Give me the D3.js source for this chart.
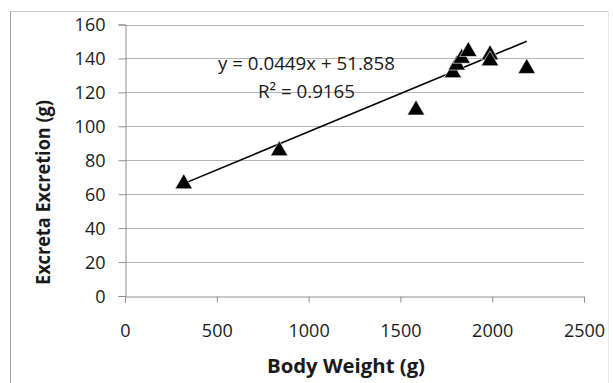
<!DOCTYPE html>
<html><head><meta charset="utf-8">
<script src="https://cdn.jsdelivr.net/npm/d3@7"></script>
<style>body{margin:0;background:#fff}svg{display:block}text{font-family:"Open Sans","Liberation Sans",sans-serif}</style>
</head><body>
<svg id="c" width="613" height="383"></svg>
<script>
const bodyWeight = [320, 840, 1585, 1786, 1807, 1834, 1870, 1988, 1988, 2188];
const excreta    = [67, 86.5, 110.5, 132.5, 137, 141, 145, 143, 139.5, 135];
const xTicks = [0, 500, 1000, 1500, 2000, 2500];
const yTicks = [0, 20, 40, 60, 80, 100, 120, 140, 160];
const slope = 0.0449, intercept = 51.858;
const eqText = "y = 0.0449x + 51.858";
const r2Text = "R² = 0.9165";
const xTitle = "Body Weight (g)";
const yTitle = "Excreta Excretion (g)";

const svg = d3.select("#c");
// outer chart border
svg.append("line").attr("x1",10.5).attr("x2",10.5).attr("y1",11).attr("y2",383).attr("stroke","#a0a0a0");
svg.append("line").attr("x1",10.5).attr("x2",608.5).attr("y1",11.5).attr("y2",11.5).attr("stroke","#c8c8c8");
svg.append("line").attr("x1",608.5).attr("x2",608.5).attr("y1",11).attr("y2",383).attr("stroke","#e4e4e4");

const x = d3.scaleLinear().domain([0,2500]).range([125,584]);
const y = d3.scaleLinear().domain([0,160]).range([296,24.5]);

// gridlines
svg.append("g").selectAll("line").data(yTicks.filter(d=>d>0)).join("line")
  .attr("x1",x(0)).attr("x2",x(2500)).attr("y1",d=>Math.round(y(d))+0.5).attr("y2",d=>Math.round(y(d))+0.5)
  .attr("stroke","#b4b4b4").attr("stroke-width",1);

// axes
const fmt = d3.format("d");
const yAxis = d3.axisLeft(y).tickValues(yTicks).tickFormat(fmt).tickSize(7).tickPadding(13);
const gy = svg.append("g").attr("transform",`translate(${x(0)+0.5},0)`).call(yAxis);
const xAxis = d3.axisBottom(x).tickValues(xTicks).tickFormat(fmt).tickSize(6);
const gx = svg.append("g").attr("transform",`translate(0,${Math.round(y(0))+0.5})`).call(xAxis);
[gx,gy].forEach(g=>{
  g.select(".domain").attr("stroke","#909090");
  g.selectAll(".tick line").attr("stroke","#909090");
  g.selectAll("text").attr("fill","#1a1a1a").style("font-size","18px").style("font-family","'Open Sans','Liberation Sans',sans-serif");
});
gy.selectAll(".tick text").attr("dy","0.35em");
gx.selectAll(".tick text").attr("y",40).attr("dy",0);

// trendline
const xmin = d3.min(bodyWeight), xmax = d3.max(bodyWeight);
svg.append("line").attr("x1",x(xmin)).attr("y1",y(slope*xmin+intercept))
  .attr("x2",x(xmax)).attr("y2",y(slope*xmax+intercept))
  .attr("stroke","#000").attr("stroke-width",1.6);

// triangles
const tri = d3.symbol().type(d3.symbolTriangle).size(130);
svg.append("g").selectAll("path").data(bodyWeight).join("path")
  .attr("d",tri)
  .attr("transform",(d,i)=>`translate(${x(d)},${y(excreta[i])+1.5})`)
  .attr("fill","#000").attr("stroke","#fff").attr("stroke-width",0.6);

// equation text
svg.append("text").attr("x",306.5).attr("y",70).attr("text-anchor","middle")
  .attr("textLength",177).attr("lengthAdjust","spacingAndGlyphs")
  .style("font-size","19px").attr("fill","#1a1a1a").text(eqText);
svg.append("text").attr("x",306.5).attr("y",98).attr("text-anchor","middle")
  .attr("textLength",97).attr("lengthAdjust","spacingAndGlyphs")
  .style("font-size","19px").attr("fill","#1a1a1a").text(r2Text);

// titles
svg.append("text").attr("x",346).attr("y",373).attr("text-anchor","middle")
  .attr("textLength",158).attr("lengthAdjust","spacingAndGlyphs")
  .style("font-size","20px").style("font-weight","bold").attr("fill","#1a1a1a").text(xTitle);
svg.append("text").attr("transform","translate(50,192.5) rotate(-90)").attr("text-anchor","middle")
  .attr("textLength",185).attr("lengthAdjust","spacingAndGlyphs")
  .style("font-size","20px").style("font-weight","bold").attr("fill","#1a1a1a").text(yTitle);
</script>
</body></html>
